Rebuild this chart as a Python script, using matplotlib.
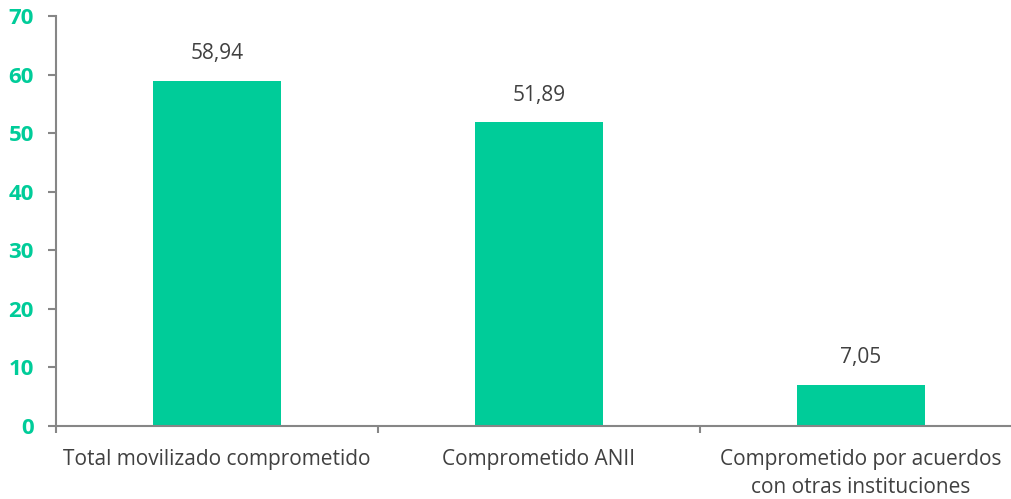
import matplotlib.pyplot as plt

categories = ['Total movilizado comprometido', 'Comprometido ANII',
              'Comprometido por acuerdos\ncon otras instituciones']
values = [58.94, 51.89, 7.05]
value_labels = ['58,94', '51,89', '7,05']
y_ticks = [0, 10, 20, 30, 40, 50, 60, 70]

bar_color = '#00CC99'
axis_color = '#868686'
text_color = '#404040'

plt.rcParams['font.family'] = ['Open Sans', 'DejaVu Sans']

fig = plt.figure(figsize=(10.11, 4.99), dpi=100)
# axes runs slightly past the right edge, like the original
ax = fig.add_axes([56 / 1011, 1 - 426 / 499, 966 / 1011, 410 / 499])

x = range(len(categories))
ax.bar(x, values, width=0.4, color=bar_color, zorder=2)
for i, (v, lab) in enumerate(zip(values, value_labels)):
    ax.text(i, v + 2.8, lab, ha='center', va='bottom', fontsize=15, color=text_color)

ax.set_xlim(-0.5, len(categories) - 0.5)
ax.set_ylim(0, 70)
ax.set_yticks(y_ticks)
ax.set_yticklabels([str(t) for t in y_ticks], fontsize=16, fontweight='bold', color=bar_color)

ax.set_xticks([i - 0.5 for i in range(len(categories) + 1)])
ax.set_xticklabels([])
for i, c in enumerate(categories):
    ax.text(i, -3.9, c, ha='center', va='top', fontsize=15, color=text_color,
            linespacing=1.45)

for side in ['top', 'right']:
    ax.spines[side].set_visible(False)
for side in ['left', 'bottom']:
    ax.spines[side].set_color(axis_color)
    ax.spines[side].set_linewidth(1.5)
ax.tick_params(axis='y', length=6, width=1.5, color=axis_color, pad=10)
ax.tick_params(axis='x', length=5, width=1.5, color=axis_color)

fig.savefig('out.png', dpi=100)
